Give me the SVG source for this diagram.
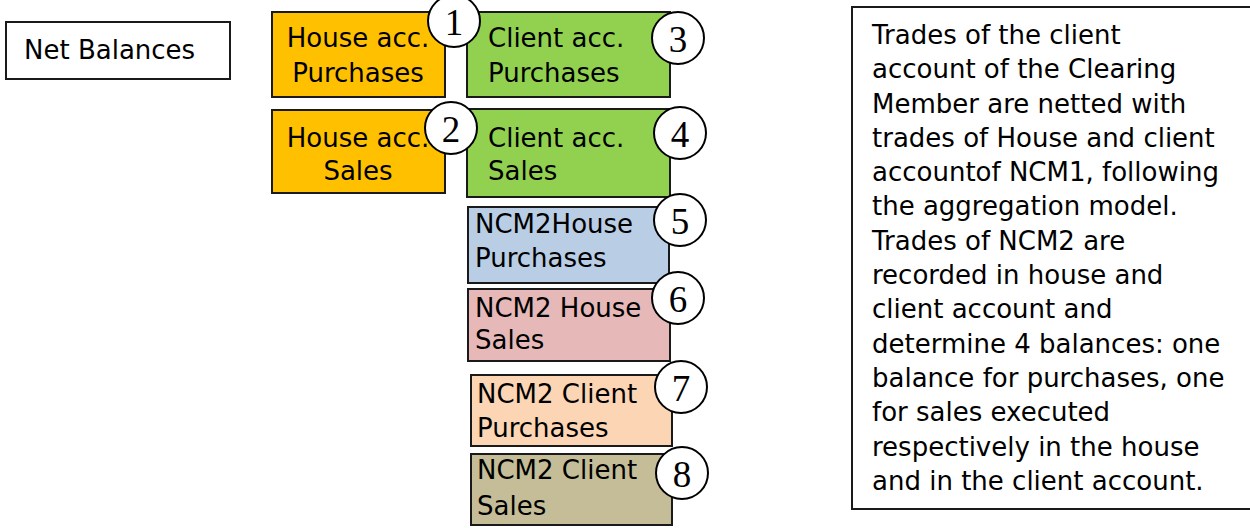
<svg xmlns="http://www.w3.org/2000/svg" width="1250" height="528" viewBox="0 0 1250 528">
<style>
.box{stroke:#1a1a1a;stroke-width:2}
.lbl{font-family:"DejaVu Sans",sans-serif;font-size:26px;fill:#000}
.num circle{fill:#fff;stroke:#000;stroke-width:2}
.num text{font-family:"Liberation Serif",serif;font-size:37px;fill:#000;text-anchor:middle}
.mid{text-anchor:middle}
</style>
<rect width="1250" height="528" fill="#fff"/>
<g id="net-balances">
<rect class="box" x="6" y="22" width="224" height="57" fill="#fff"/>
<text class="lbl" x="24" y="59">Net Balances</text>
</g>
<g id="house-purchases">
<rect class="box" x="272" y="12" width="173" height="85" fill="#FFC000"/>
<text class="lbl mid" x="358" y="47">House acc.</text>
<text class="lbl mid" x="358" y="82">Purchases</text>
</g>
<g id="client-purchases">
<rect class="box" x="467" y="12" width="203" height="85" fill="#92D050"/>
<text class="lbl" x="488" y="47">Client acc.</text>
<text class="lbl" x="488" y="82">Purchases</text>
</g>
<g id="house-sales">
<rect class="box" x="272" y="110" width="173" height="83" fill="#FFC000"/>
<text class="lbl mid" x="358" y="147">House acc.</text>
<text class="lbl mid" x="358" y="180">Sales</text>
</g>
<g id="client-sales">
<rect class="box" x="467" y="109" width="203" height="88" fill="#92D050"/>
<text class="lbl" x="488" y="147">Client acc.</text>
<text class="lbl" x="488" y="180">Sales</text>
</g>
<g id="ncm2-house-purchases">
<rect class="box" x="468" y="207" width="201" height="76" fill="#B9CDE5"/>
<text class="lbl" x="475" y="233">NCM2House</text>
<text class="lbl" x="475" y="267">Purchases</text>
</g>
<g id="ncm2-house-sales">
<rect class="box" x="468" y="289" width="202" height="72" fill="#E6B9B8"/>
<text class="lbl" x="475" y="317">NCM2 House</text>
<text class="lbl" x="475" y="349">Sales</text>
</g>
<g id="ncm2-client-purchases">
<rect class="box" x="471" y="375" width="201" height="71" fill="#FCD5B5"/>
<text class="lbl" x="477" y="403">NCM2 Client</text>
<text class="lbl" x="477" y="437">Purchases</text>
</g>
<g id="ncm2-client-sales">
<rect class="box" x="471" y="454" width="201" height="71" fill="#C4BD97"/>
<text class="lbl" x="477" y="479">NCM2 Client</text>
<text class="lbl" x="477" y="515">Sales</text>
</g>
<g id="n1" class="num"><circle cx="454" cy="21" r="26"/><text x="454" y="35">1</text></g>
<g id="n2" class="num"><circle cx="451" cy="128" r="26"/><text x="451" y="142">2</text></g>
<g id="n3" class="num"><circle cx="678" cy="38" r="26"/><text x="678" y="52">3</text></g>
<g id="n4" class="num"><circle cx="680" cy="133" r="26"/><text x="680" y="147">4</text></g>
<g id="n5" class="num"><circle cx="680" cy="220" r="26"/><text x="680" y="234">5</text></g>
<g id="n6" class="num"><circle cx="678" cy="298" r="26"/><text x="678" y="312">6</text></g>
<g id="n7" class="num"><circle cx="681" cy="387" r="26"/><text x="681" y="401">7</text></g>
<g id="n8" class="num"><circle cx="682" cy="473" r="26"/><text x="682" y="487">8</text></g>
<g id="connectors"></g>
<g id="note">
<rect class="box" x="852" y="7" width="420" height="502" fill="#fff"/>
<text class="lbl">
<tspan x="872" y="44">Trades of the client</tspan>
<tspan x="872" y="78">account of the Clearing</tspan>
<tspan x="872" y="113">Member are netted with</tspan>
<tspan x="872" y="147">trades of House and client</tspan>
<tspan x="872" y="181">accountof NCM1, following</tspan>
<tspan x="872" y="215">the aggregation model.</tspan>
<tspan x="872" y="250">Trades of NCM2 are</tspan>
<tspan x="872" y="284">recorded in house and</tspan>
<tspan x="872" y="318">client account and</tspan>
<tspan x="872" y="353">determine 4 balances: one</tspan>
<tspan x="872" y="387">balance for purchases, one</tspan>
<tspan x="872" y="421">for sales executed</tspan>
<tspan x="872" y="456">respectively in the house</tspan>
<tspan x="872" y="490">and in the client account.</tspan>
</text>
</g>
</svg>
